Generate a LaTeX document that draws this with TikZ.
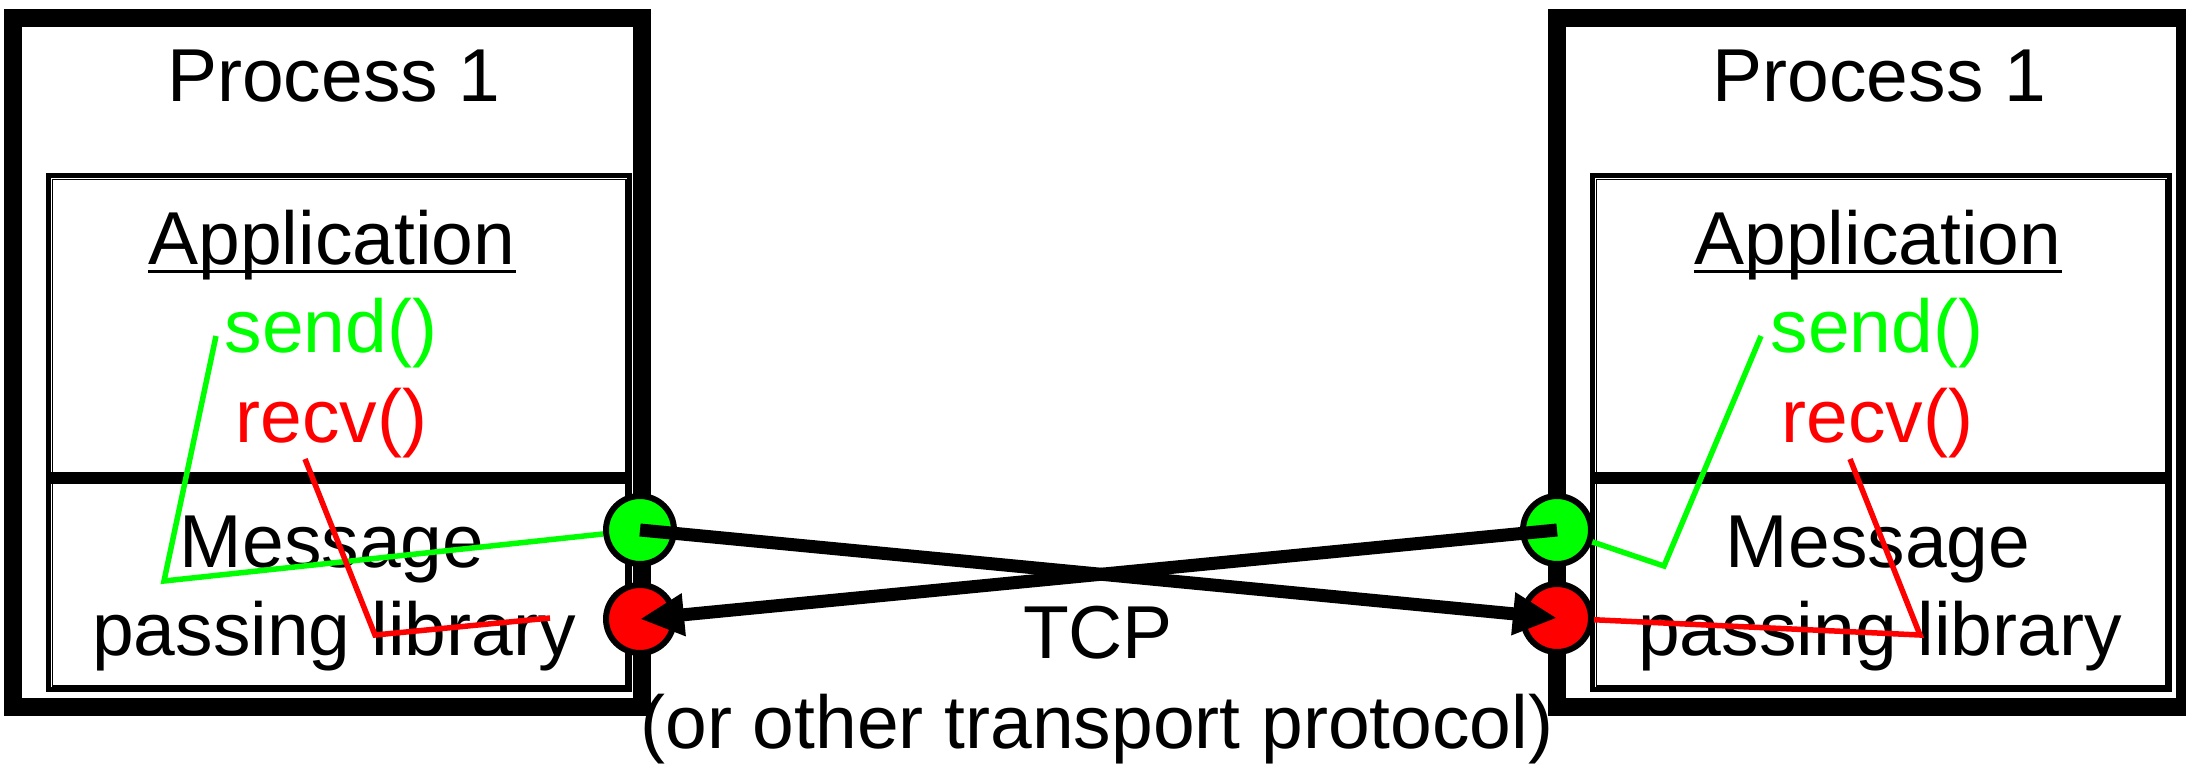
\documentclass[tikz,border=0pt]{standalone}
\usepackage{fontspec}
\setmainfont{Liberation Sans}
\usetikzlibrary{arrows.meta}
\definecolor{brightgreen}{RGB}{0,255,0}
\definecolor{brightred}{RGB}{255,0,0}
\pgfdeclarelayer{back}
\pgfdeclarelayer{mid}
\pgfsetlayers{back,mid,main}

\begin{document}
\begin{tikzpicture}[x=1pt,y=-1pt,
  frame/.style={draw=black,line width=18pt},
  divider/.style={draw=black,line width=12pt},
  boxouter/.style={draw=black,line width=5pt},
  boxinner/.style={draw=black,line width=1.5pt},
  label/.style={font=\fontsize{75}{90}\selectfont,inner sep=0pt,anchor=base},
  port/.style={circle,draw=black,line width=6pt,minimum size=68pt,inner sep=0pt},
  sendport/.style={port,fill=brightgreen},
  recvport/.style={port,fill=brightred},
  sendline/.style={draw=brightgreen,line width=5.5pt},
  recvline/.style={draw=brightred,line width=5.5pt},
  tcp/.style={draw=black,line width=13pt,-{Triangle[length=44pt,width=40pt]}},
]
\useasboundingbox (0,0) rectangle (2186,766);

\begin{pgfonlayer}{back}
  \fill[white] (0,0) rectangle (2186,766);

  % left process
  \draw[frame] (12.5,17.5) rectangle (641.5,706.5);
  \draw[boxouter] (48.5,175.5) rectangle (629.5,689.5);
  \draw[boxinner] (52.25,179.25) rectangle (625.75,685.75);
  \draw[divider] (46,477.5) -- (632,477.5);

  % right process
  \draw[frame] (1557,17.5) rectangle (2185,706.5);
  \draw[boxouter] (1592.5,175.5) rectangle (2169.5,689.5);
  \draw[boxinner] (1596.25,179.25) rectangle (2165.75,685.75);
  \draw[divider] (1590,477.5) -- (2172,477.5);

  % texts, left
  \node[label] (procL) at (334,101) {Process 1};
  \node[label] (appL) at (332,264) {Application};
  \draw[line width=3pt] ([yshift=-7pt]appL.base west) -- ([yshift=-7pt]appL.base east);
  \node[label,text=brightgreen] (sendL) at (331,352) {send()};
  \node[label,text=brightred] (recvL) at (331.5,442) {recv()};
  \node[label] (msgL) at (332,567) {Message};
  \node[label] (libL) at (334,655) {passing library};

  % texts, right
  \node[label] (procR) at (1879.5,101) {Process 1};
  \node[label] (appR) at (1878,264) {Application};
  \draw[line width=3pt] ([yshift=-7pt]appR.base west) -- ([yshift=-7pt]appR.base east);
  \node[label,text=brightgreen] (sendR) at (1877,352) {send()};
  \node[label,text=brightred] (recvR) at (1877.5,442) {recv()};
  \node[label] (msgR) at (1878,567) {Message};
  \node[label] (libR) at (1880,655) {passing library};

  % transport
  \node[label] (tcpL) at (1098,658) {TCP};
  \node[label] (tcpN) at (1097,748) {(or other transport protocol)};
\end{pgfonlayer}

% ports on the process borders
\node[sendport] (gL) at (640,530) {};
\node[recvport] (rL) at (640,619) {};
\node[sendport] (gR) at (1557,530) {};
\node[recvport] (rR) at (1557,618) {};

% call paths inside each process
\coordinate (sLa) at (164,581);
\coordinate (sLb) at (216,336);
\coordinate (rLa) at (305,459);
\coordinate (rLb) at (375,635);
\coordinate (rLc) at (550,618);
\coordinate (sRa) at (1664,566);
\coordinate (sRb) at (1761,336);
\coordinate (rRa) at (1920,635);
\coordinate (rRb) at (1850,459);

\begin{pgfonlayer}{mid}
  \draw[sendline] (gL) -- (sLa) -- (sLb);
  \draw[recvline] (rLa) -- (rLb) -- (rLc);
  \draw[sendline] (gR) -- (sRa) -- (sRb);
  \draw[recvline] (rR) -- (rRa) -- (rRb);
\end{pgfonlayer}

% transport connections
\draw[tcp] (gL.center) -- (rR.center);
\draw[tcp] (gR.center) -- (rL.center);
\end{tikzpicture}
\end{document}
